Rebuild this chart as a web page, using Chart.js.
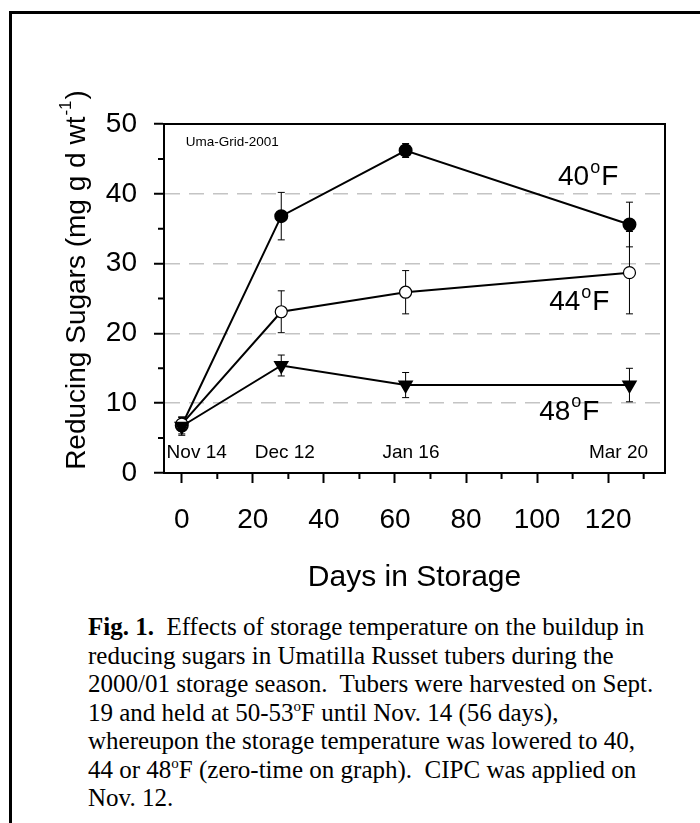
<!DOCTYPE html>
<html>
<head>
<meta charset="utf-8">
<script src="https://cdn.jsdelivr.net/npm/chart.js@4/dist/chart.umd.min.js"></script>
<style>
html, body { margin: 0; padding: 0; background: #fff; }
body { width: 700px; height: 823px; position: relative; overflow: hidden; }
#frame { position: absolute; left: 9px; top: 11px; width: 720px; height: 840px; border-left: 3px solid #000; border-top: 3px solid #000; }
#chartBox { position: absolute; left: 0; top: 0; width: 700px; height: 600px; }
#caption { position: absolute; left: 88px; top: 613px; white-space: nowrap;
  font-family: "Liberation Serif", "Times New Roman", serif; font-size: 25px; line-height: 28.5px; color: #000; }
#caption sup { font-size: 15px; line-height: 0; vertical-align: 0; position: relative; top: -10px; }
</style>
</head>
<body>
<div id="frame"></div>
<div id="chartBox"><canvas id="sugarChart" width="700" height="600"></canvas></div>
<div id="caption"><b>Fig. 1.</b>&nbsp; Effects of storage temperature on the buildup in<br>reducing sugars in Umatilla Russet tubers during the<br>2000/01 storage season.&nbsp; Tubers were harvested on Sept.<br>19 and held at 50-53<sup>o</sup>F until Nov. 14 (56 days),<br>whereupon the storage temperature was lowered to 40,<br>44 or 48<sup>o</sup>F (zero-time on graph).&nbsp; CIPC was applied on<br>Nov. 12.</div>
<script>
// days in storage for each sampling date
const days = [0, 28, 63, 126];
const dateLabels = ['Nov 14', 'Dec 12', 'Jan 16', 'Mar 20'];

// reducing sugars (mg g d wt-1) and error bar half-widths
const sugars40 = [6.8, 36.8, 46.2, 35.6];
const err40 = [1.2, 3.4, 1.0, 3.2];
const sugars44 = [7.0, 23.1, 25.9, 28.7];
const err44 = [1.0, 3.0, 3.1, 5.9];
const sugars48 = [6.7, 15.4, 12.6, 12.6];
const err48 = [1.3, 1.5, 1.8, 2.4];

const tempLabels = ['40', '44', '48'];
const xTicks = [0, 20, 40, 60, 80, 100, 120];
const xMinorTicks = [10, 30, 50, 70, 90, 110, 130];
const yMinorTicks = [5, 15, 25, 35, 45];

const FONT = '"Liberation Sans", Arial, sans-serif';
Chart.defaults.font.family = FONT;
Chart.defaults.color = '#000';

function points(vals) {
    return days.map((d, i) => ({ x: d, y: vals[i] }));
}

// error bars drawn under the lines and markers
const errorBars = {
    id: 'errorBars',
    beforeDatasetsDraw(chart) {
        const ctx = chart.ctx;
        const xs = chart.scales.x, ys = chart.scales.y;
        ctx.save();
        ctx.strokeStyle = '#000';
        ctx.lineWidth = 1;
        chart.data.datasets.forEach(ds => {
            ds.data.forEach((p, i) => {
                const x = xs.getPixelForValue(p.x);
                const t = ys.getPixelForValue(p.y + ds.errors[i]);
                const b = ys.getPixelForValue(p.y - ds.errors[i]);
                ctx.beginPath();
                ctx.moveTo(x, t); ctx.lineTo(x, b);
                ctx.moveTo(x - 3.5, t); ctx.lineTo(x + 3.5, t);
                ctx.moveTo(x - 3.5, b); ctx.lineTo(x + 3.5, b);
                ctx.stroke();
            });
        });
        ctx.restore();
    }
};

// frame, minor ticks and the text written inside the plot
const extras = {
    id: 'extras',
    afterDraw(chart, args, opts) {
        const ctx = chart.ctx;
        const a = chart.chartArea;
        const xs = chart.scales.x, ys = chart.scales.y;
        ctx.save();
        ctx.strokeStyle = '#000';
        ctx.lineWidth = 2;
        ctx.beginPath();
        ctx.moveTo(a.left - 1, a.top); ctx.lineTo(a.right, a.top); ctx.lineTo(a.right, a.bottom + 1);
        ctx.stroke();

        ctx.beginPath();
        yMinorTicks.forEach(v => {
            const y = ys.getPixelForValue(v);
            ctx.moveTo(a.left - 6, y); ctx.lineTo(a.left, y);
        });
        xMinorTicks.forEach(v => {
            const x = xs.getPixelForValue(v);
            ctx.moveTo(x, a.bottom); ctx.lineTo(x, a.bottom + 6);
        });
        ctx.stroke();

        ctx.fillStyle = '#000';
        ctx.textBaseline = 'middle';

        // Uma-Grid-2001
        ctx.font = '13.5px ' + FONT;
        ctx.textAlign = 'left';
        ctx.fillText(opts.tag.text, xs.getPixelForValue(opts.tag.x), ys.getPixelForValue(opts.tag.y));

        // sampling dates
        ctx.font = '19px ' + FONT;
        ctx.textAlign = 'center';
        dateLabels.forEach((t, i) => {
            ctx.fillText(t, xs.getPixelForValue(opts.datePos[i]), ys.getPixelForValue(opts.dateY));
        });

        // temperature labels with superscript o
        ctx.textAlign = 'left';
        tempLabels.forEach((t, i) => {
            let x = xs.getPixelForValue(opts.tempPos[i].x);
            const y = ys.getPixelForValue(opts.tempPos[i].y);
            ctx.font = '28px ' + FONT;
            ctx.fillText(t, x, y);
            x += ctx.measureText(t).width + 1;
            ctx.font = '18px ' + FONT;
            ctx.fillText('o', x, y - 10);
            x += ctx.measureText('o').width + 1;
            ctx.font = '28px ' + FONT;
            ctx.fillText('F', x, y);
        });

        // y axis title with superscript -1
        const main = 'Reducing Sugars (mg g d wt', sup = '-1', end = ')';
        ctx.font = '28px ' + FONT;
        const w1 = ctx.measureText(main).width, w3 = ctx.measureText(end).width;
        ctx.font = '17px ' + FONT;
        const w2 = ctx.measureText(sup).width;
        const total = w1 + w2 + w3 + 2;
        ctx.translate(opts.yTitle.x, opts.yTitle.y);
        ctx.rotate(-Math.PI / 2);
        let px = -total / 2;
        ctx.font = '28px ' + FONT;
        ctx.fillText(main, px, 0);
        px += w1 + 1;
        ctx.font = '17px ' + FONT;
        ctx.fillText(sup, px, -11);
        px += w2 + 1;
        ctx.font = '28px ' + FONT;
        ctx.fillText(end, px, 0);
        ctx.restore();
    }
};

const ctx = document.getElementById('sugarChart').getContext('2d');

const sugarChart = new Chart(ctx, {
    type: 'line',
    data: {
        datasets: [{
            label: '40',
            data: points(sugars40),
            errors: err40,
            borderColor: '#000',
            borderWidth: 2,
            pointStyle: 'circle',
            pointRadius: 6,
            pointBackgroundColor: '#000',
            pointBorderColor: '#000',
            order: 3
        }, {
            label: '44',
            data: points(sugars44),
            errors: err44,
            borderColor: '#000',
            borderWidth: 2,
            pointStyle: 'circle',
            pointRadius: 6,
            pointBackgroundColor: '#fff',
            pointBorderColor: '#000',
            pointBorderWidth: 1.2,
            order: 2
        }, {
            label: '48',
            data: points(sugars48),
            errors: err48,
            borderColor: '#000',
            borderWidth: 2,
            pointStyle: 'triangle',
            pointRotation: 180,
            pointRadius: 7,
            pointBackgroundColor: '#000',
            pointBorderColor: '#000',
            order: 1
        }]
    },
    options: {
        responsive: false,
        animation: false,
        events: [],
        layout: { padding: { top: 124, right: 35, bottom: 0, left: 0 } },
        elements: { line: { tension: 0 } },
        scales: {
            x: {
                type: 'linear',
                min: -5,
                max: 136,
                afterBuildTicks: s => { s.ticks = xTicks.map(v => ({ value: v })); },
                afterFit: s => { s.height = 127; },
                grid: { drawOnChartArea: false, drawTicks: true, tickLength: 10, tickColor: '#000', tickWidth: 2 },
                border: { color: '#000', width: 2 },
                ticks: { font: { size: 28 }, padding: 20, color: '#000', maxRotation: 0 },
                title: { display: true, text: 'Days in Storage', font: { size: 30 }, color: '#000', padding: { top: 0, bottom: 4 } }
            },
            y: {
                min: 0,
                max: 50,
                ticks: { stepSize: 10, font: { size: 28 }, padding: 17, color: '#000' },
                afterFit: s => { s.width = 164; },
                grid: {
                    color: c => (c.tick && c.tick.value > 0 && c.tick.value < 50) ? '#c4c4c4' : 'rgba(0,0,0,0)',
                    lineWidth: 1.5,
                    tickLength: 10,
                    tickColor: '#000',
                    tickWidth: 2,
                    tickBorderDash: []
                },
                border: { color: '#000', width: 2, dash: [15, 9] }
            }
        },
        plugins: {
            legend: { display: false },
            tooltip: { enabled: false },
            extras: {
                tag: { text: 'Uma-Grid-2001', x: 1.1, y: 47.4 },
                datePos: [4.2, 29, 64.5, 122.9],
                dateY: 2.9,
                tempPos: [{ x: 105.9, y: 42.3 }, { x: 103.4, y: 24.4 }, { x: 100.6, y: 8.7 }],
                yTitle: { x: 77, y: 280 }
            }
        }
    },
    plugins: [errorBars, extras]
});
</script>
</body>
</html>
